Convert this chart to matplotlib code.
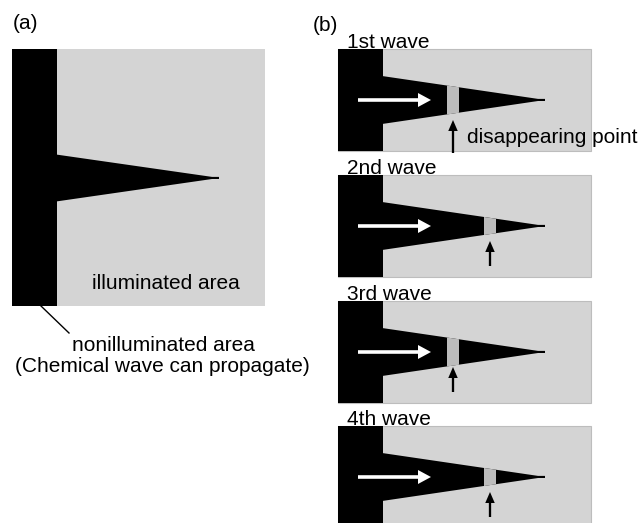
import matplotlib
matplotlib.use("Agg")
import matplotlib.pyplot as plt
from matplotlib.patches import Rectangle, Polygon, FancyArrow

plt.rcParams['font.family'] = ['Liberation Sans', 'DejaVu Sans']

# schematic values (pixel units of the 643x523 picture)
wave_labels = ['1st wave', '2nd wave', '3rd wave', '4th wave']
panel_tops = [49, 175, 301, 426]
# x position of the disappearing point (left edge of the gray band) in each wave
disappear_x = [447, 484, 447, 484]
# pointer arrows below the disappearing point: (tail y, head y) relative to panel top
pointer_y = [(104, 71), (91, 66), (91, 66), (91, 66)]

BG = '#d4d4d4'
BAND = '#bcbcbc'
FS = 15

fig = plt.figure(figsize=(6.43, 5.23), dpi=100)
ax = fig.add_axes([0, 0, 1, 1])
ax.set_xlim(0, 643)
ax.set_ylim(523, 0)
ax.axis('off')


def spike(x0, cy, half, tip):
    return Polygon([(x0, cy - half), (tip - 7, cy - 1.1), (tip, cy - 1.1),
                    (tip, cy + 1.0), (tip - 7, cy + 1.0), (x0, cy + half)],
                   closed=True, facecolor='black', edgecolor='none')


# ---- panel (a)
ax.text(13, 29, '(a)', fontsize=FS, va='baseline')
ax.add_patch(Rectangle((12, 49), 253, 257, facecolor=BG, edgecolor='none'))
ax.add_patch(Rectangle((12, 49), 45, 257, facecolor='black', edgecolor='none'))
ax.add_patch(spike(56, 178, 23.5, 219))
ax.text(165.5, 289, 'illuminated area', fontsize=FS, ha='center', va='baseline')
ax.plot([41, 69], [306, 333], color='black', lw=1.0)
ax.text(163, 351, 'nonilluminated area', fontsize=FS, ha='center', va='baseline')
ax.text(162, 372, '(Chemical wave can propagate)', fontsize=FS, ha='center',
        va='baseline')

# ---- panel (b)
ax.text(313, 31, '(b)', fontsize=FS, va='baseline')
x_left, x_bar, x_tip, x_right = 338, 383, 545, 591
half = 24
for lab, top, bx, (py0, py1) in zip(wave_labels, panel_tops, disappear_x, pointer_y):
    cy = top + 51
    ax.add_patch(Rectangle((x_left, top), x_right - x_left, 102, facecolor=BG,
                           edgecolor='#bdbdbd', lw=0.8))
    ax.add_patch(Rectangle((x_left, top), x_bar - x_left, 102, facecolor='black',
                           edgecolor='none'))
    ax.add_patch(spike(x_bar - 1, cy, half, x_tip))
    # gray band where the wave disappears
    bw = 12
    h0 = half * (x_tip - bx) / (x_tip - x_bar)
    h1 = half * (x_tip - bx - bw) / (x_tip - x_bar)
    ax.add_patch(Polygon([(bx, cy - h0), (bx + bw, cy - h1), (bx + bw, cy + h1),
                          (bx, cy + h0)], closed=True, facecolor=BAND,
                         edgecolor='none'))
    # white propagation arrow
    ax.add_patch(FancyArrow(358, cy, 73, 0, width=3.6, head_width=14,
                            head_length=13, length_includes_head=True,
                            color='white', lw=0))
    # black pointer arrow
    ax.add_patch(FancyArrow(bx + 6, top + py0, 0, py1 - py0, width=2.3,
                            head_width=9.5, head_length=11,
                            length_includes_head=True, color='black', lw=0))
    ax.text(347, top - 1, lab, fontsize=FS, va='baseline')

ax.text(467, 143, 'disappearing point', fontsize=FS, va='baseline')

fig.savefig('out.png', dpi=100)
